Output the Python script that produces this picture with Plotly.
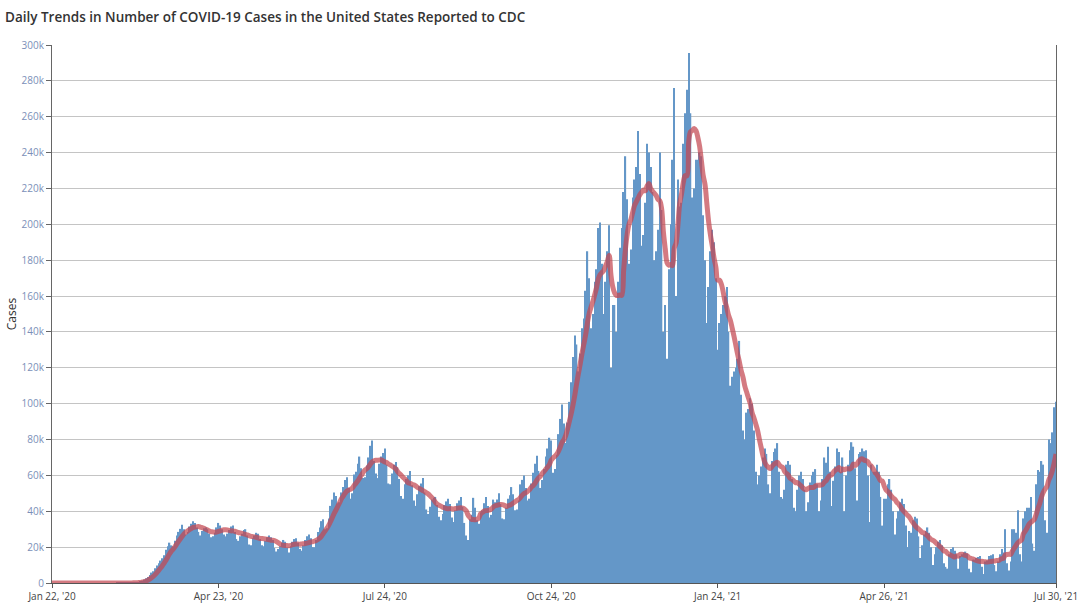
import pandas as pd
import plotly.graph_objects as go

# Daily cases (thousands), one row per week starting Wed Jan 22, 2020
weekly_rows = [
    [0, 0, 0.001, 0, 0.001, 0, 0],
    [0, 0.001, 0.001, 0, 0.001, 0, 0],
    [0, 0, 0, 0, 0.001, 0, 0],
    [0, 0, 0, 0, 0, 0, 0],
    [0, 0, 0, 0, 0, 0, 0.001],
    [0.002, 0.004, 0.008, 0.01, 0.015, 0.02, 0.03],
    [0.05, 0.08, 0.12, 0.18, 0.25, 0.35, 0.55],
    [0.9, 1.3, 1.9, 2.6, 3.4, 4.4, 5.8],
    [6.5, 8.2, 9.8, 11.0, 12.5, 13.8, 15.5],
    [18.5, 20.5, 22.5, 21.0, 20.5, 23.5, 26.5],
    [28.5, 30.2, 32.5, 30.0, 27.0, 28.5, 31.5],
    [33.0, 34.5, 33.5, 31.0, 28.5, 26.5, 29.0],
    [30.5, 31.0, 30.0, 27.5, 25.5, 26.0, 28.0],
    [31.0, 33.5, 32.0, 30.0, 27.0, 26.0, 27.5],
    [29.5, 31.5, 32.0, 28.5, 24.5, 23.5, 26.0],
    [27.5, 29.5, 30.0, 26.5, 21.5, 21.0, 25.0],
    [26.5, 28.0, 27.5, 24.5, 21.0, 20.5, 23.5],
    [25.5, 26.5, 25.5, 24.0, 19.5, 17.5, 19.0],
    [20.5, 22.5, 24.0, 23.0, 19.5, 17.0, 20.5],
    [23.0, 24.5, 25.0, 22.5, 19.0, 18.0, 21.0],
    [24.0, 26.0, 27.0, 25.0, 20.0, 20.0, 24.0],
    [28.5, 31.0, 34.5, 35.5, 30.0, 30.5, 36.0],
    [43.0, 46.5, 50.5, 48.5, 44.5, 45.0, 50.5],
    [53.5, 57.5, 59.0, 53.0, 47.0, 50.0, 60.5],
    [62.0, 66.5, 70.5, 64.0, 58.5, 59.0, 65.5],
    [70.0, 76.5, 79.5, 68.0, 61.0, 58.5, 66.5],
    [70.5, 72.5, 75.0, 66.0, 55.5, 55.0, 61.0],
    [66.0, 67.5, 64.5, 58.0, 48.5, 47.0, 55.0],
    [58.0, 60.0, 62.5, 54.5, 46.0, 43.0, 49.5],
    [54.0, 55.5, 58.5, 50.5, 41.0, 38.5, 42.5],
    [46.5, 47.5, 48.0, 43.5, 37.0, 35.0, 38.5],
    [43.5, 45.5, 47.0, 44.0, 36.5, 34.0, 40.5],
    [44.5, 46.0, 48.0, 42.5, 33.5, 26.5, 24.0],
    [35.5, 38.0, 47.5, 42.0, 35.0, 33.0, 39.5],
    [40.5, 44.5, 48.0, 43.0, 36.5, 38.0, 46.5],
    [45.0, 46.5, 50.0, 44.0, 36.0, 35.5, 42.0],
    [47.0, 49.0, 53.5, 49.5, 40.5, 41.0, 46.0],
    [55.0, 57.5, 60.0, 53.0, 46.0, 47.0, 55.5],
    [61.5, 66.5, 71.0, 62.5, 53.0, 57.5, 63.5],
    [70.5, 75.0, 81.0, 79.5, 61.5, 63.5, 71.5],
    [83.0, 91.5, 99.5, 89.0, 78.0, 89.5, 101.0],
    [112.0, 126.0, 138.0, 133.0, 118.0, 128.0, 142.0],
    [147.5, 163.0, 185.0, 170.0, 142.0, 150.0, 168.0],
    [175.0, 198.0, 201.0, 178.0, 150.0, 168.0, 185.0],
    [199.5, 120.0, 155.0, 155.0, 140.0, 168.0, 187.0],
    [198.0, 218.0, 238.0, 214.0, 178.0, 186.0, 215.0],
    [225.0, 232.0, 252.0, 228.0, 188.0, 194.0, 212.0],
    [245.0, 240.0, 232.0, 218.0, 180.0, 185.0, 197.0],
    [240.0, 208.0, 140.0, 155.0, 125.0, 175.0, 200.0],
    [236.0, 276.0, 160.0, 225.0, 210.0, 212.0, 245.0],
    [262.0, 275.0, 295.5, 262.0, 215.0, 220.0, 236.0],
    [236.0, 240.0, 238.0, 205.0, 180.0, 145.0, 165.0],
    [185.0, 197.0, 190.0, 170.0, 130.0, 145.0, 150.0],
    [155.0, 160.0, 165.0, 140.0, 110.0, 115.0, 118.0],
    [120.0, 125.0, 135.0, 105.0, 85.0, 80.0, 95.0],
    [97.0, 103.0, 100.0, 85.0, 62.0, 55.0, 60.0],
    [65.0, 70.0, 75.0, 72.0, 55.0, 50.0, 68.0],
    [73.0, 75.0, 78.0, 62.0, 48.0, 47.0, 52.0],
    [66.0, 68.0, 66.0, 58.0, 42.0, 40.0, 52.0],
    [60.0, 62.0, 58.0, 52.0, 40.0, 45.0, 56.0],
    [60.0, 62.0, 63.5, 55.0, 40.0, 46.0, 58.0],
    [70.0, 67.0, 76.0, 62.0, 43.0, 57.0, 65.0],
    [75.0, 73.0, 62.0, 70.0, 40.0, 60.0, 66.0],
    [74.0, 78.5, 76.0, 64.0, 46.0, 72.0, 73.0],
    [75.0, 73.5, 74.0, 60.0, 34.0, 66.0, 62.0],
    [62.0, 66.0, 62.0, 48.0, 32.0, 47.0, 47.0],
    [55.0, 58.0, 52.0, 40.0, 27.0, 36.0, 40.0],
    [45.0, 47.0, 44.0, 32.0, 20.0, 29.0, 28.0],
    [35.0, 37.0, 36.0, 26.0, 14.0, 21.0, 27.0],
    [29.0, 31.0, 28.0, 20.0, 10.0, 16.0, 20.0],
    [23.0, 24.0, 21.0, 11.0, 9.0, 8.0, 16.0],
    [19.0, 20.0, 18.0, 16.0, 8.0, 15.0, 16.0],
    [17.0, 17.5, 16.5, 8.0, 6.0, 13.0, 13.0],
    [14.0, 14.5, 15.0, 9.0, 5.0, 12.0, 12.5],
    [15.0, 15.5, 16.0, 10.0, 6.5, 12.0, 16.0],
    [19.0, 17.0, 30.0, 11.0, 7.0, 12.0, 30.0],
    [30.0, 28.0, 40.5, 16.0, 12.0, 36.0, 40.0],
    [42.0, 42.0, 48.0, 22.0, 18.0, 55.0, 63.0],
    [62.0, 68.0, 66.0, 35.0, 28.0, 80.0, 78.0],
]
last_days = [84.0, 98.0, 101.0]  # Jul 28-30, 2021

tick_dates = ["2020-01-22", "2020-04-23", "2020-07-24", "2020-10-24",
              "2021-01-24", "2021-04-26", "2021-07-30"]
tick_labels = ["Jan 22, '20", "Apr 23, '20", "Jul 24, '20", "Oct 24, '20",
               "Jan 24, '21", "Apr 26, '21", "Jul 30, '21"]
y_ticks = list(range(0, 300001, 20000))

# Build the daily table
values = [v for row in weekly_rows for v in row] + last_days
df = pd.DataFrame({
    "date": pd.date_range("2020-01-22", periods=len(values), freq="D"),
    "cases": [v * 1000 for v in values],
})
df["avg7"] = df["cases"].rolling(7, min_periods=1).mean()

fig = go.Figure()
fig.add_trace(go.Bar(
    x=df["date"], y=df["cases"],
    marker=dict(color="#6497c8", line=dict(width=0)),
    name="New Cases",
))
fig.add_trace(go.Scatter(
    x=df["date"], y=df["avg7"], mode="lines",
    line=dict(color="rgba(196,70,80,0.72)", width=5, shape="spline"),
    name="7-Day Moving Average",
))

fig.update_layout(
    width=1080, height=603,
    margin=dict(l=52, r=24, t=45, b=20, autoexpand=False),
    paper_bgcolor="white", plot_bgcolor="white",
    showlegend=False,
    bargap=0.25,
    font=dict(family="Open Sans", color="#333333"),
    title=dict(
        text="Daily Trends in Number of COVID-19 Cases in the United States Reported to CDC",
        x=5 / 1080, xanchor="left", y=1 - 17 / 603, yanchor="middle",
        font=dict(family="Open Sans", size=13.5, color="#333333", weight=600),
    ),
)
fig.update_xaxes(
    range=[tick_dates[0], tick_dates[-1]],
    tickvals=tick_dates, ticktext=tick_labels,
    showgrid=False, showline=True, linecolor="#555555", linewidth=1,
    ticks="outside", ticklen=4, tickcolor="#555555",
    tickfont=dict(size=10, color="#444444"),
    automargin=False,
)
fig.update_yaxes(
    range=[0, 300000],
    tickvals=y_ticks, ticktext=[f"{v // 1000}k" if v else "0" for v in y_ticks],
    showgrid=True, gridcolor="#c4c4c4", gridwidth=1,
    showline=True, mirror=True, linecolor="#666666", linewidth=1,
    ticks="outside", ticklen=5, tickcolor="#666666",
    tickfont=dict(size=10, color="#7b8fb8"),
    title=dict(text="Cases", font=dict(size=12, color="#333333"), standoff=2),
    zeroline=False, automargin=False,
)

# drop the default page margin so the figure sits at the window's corner
fig.write_html("out.html", config={"displayModeBar": False},
               post_script="document.body.style.margin='0';")
